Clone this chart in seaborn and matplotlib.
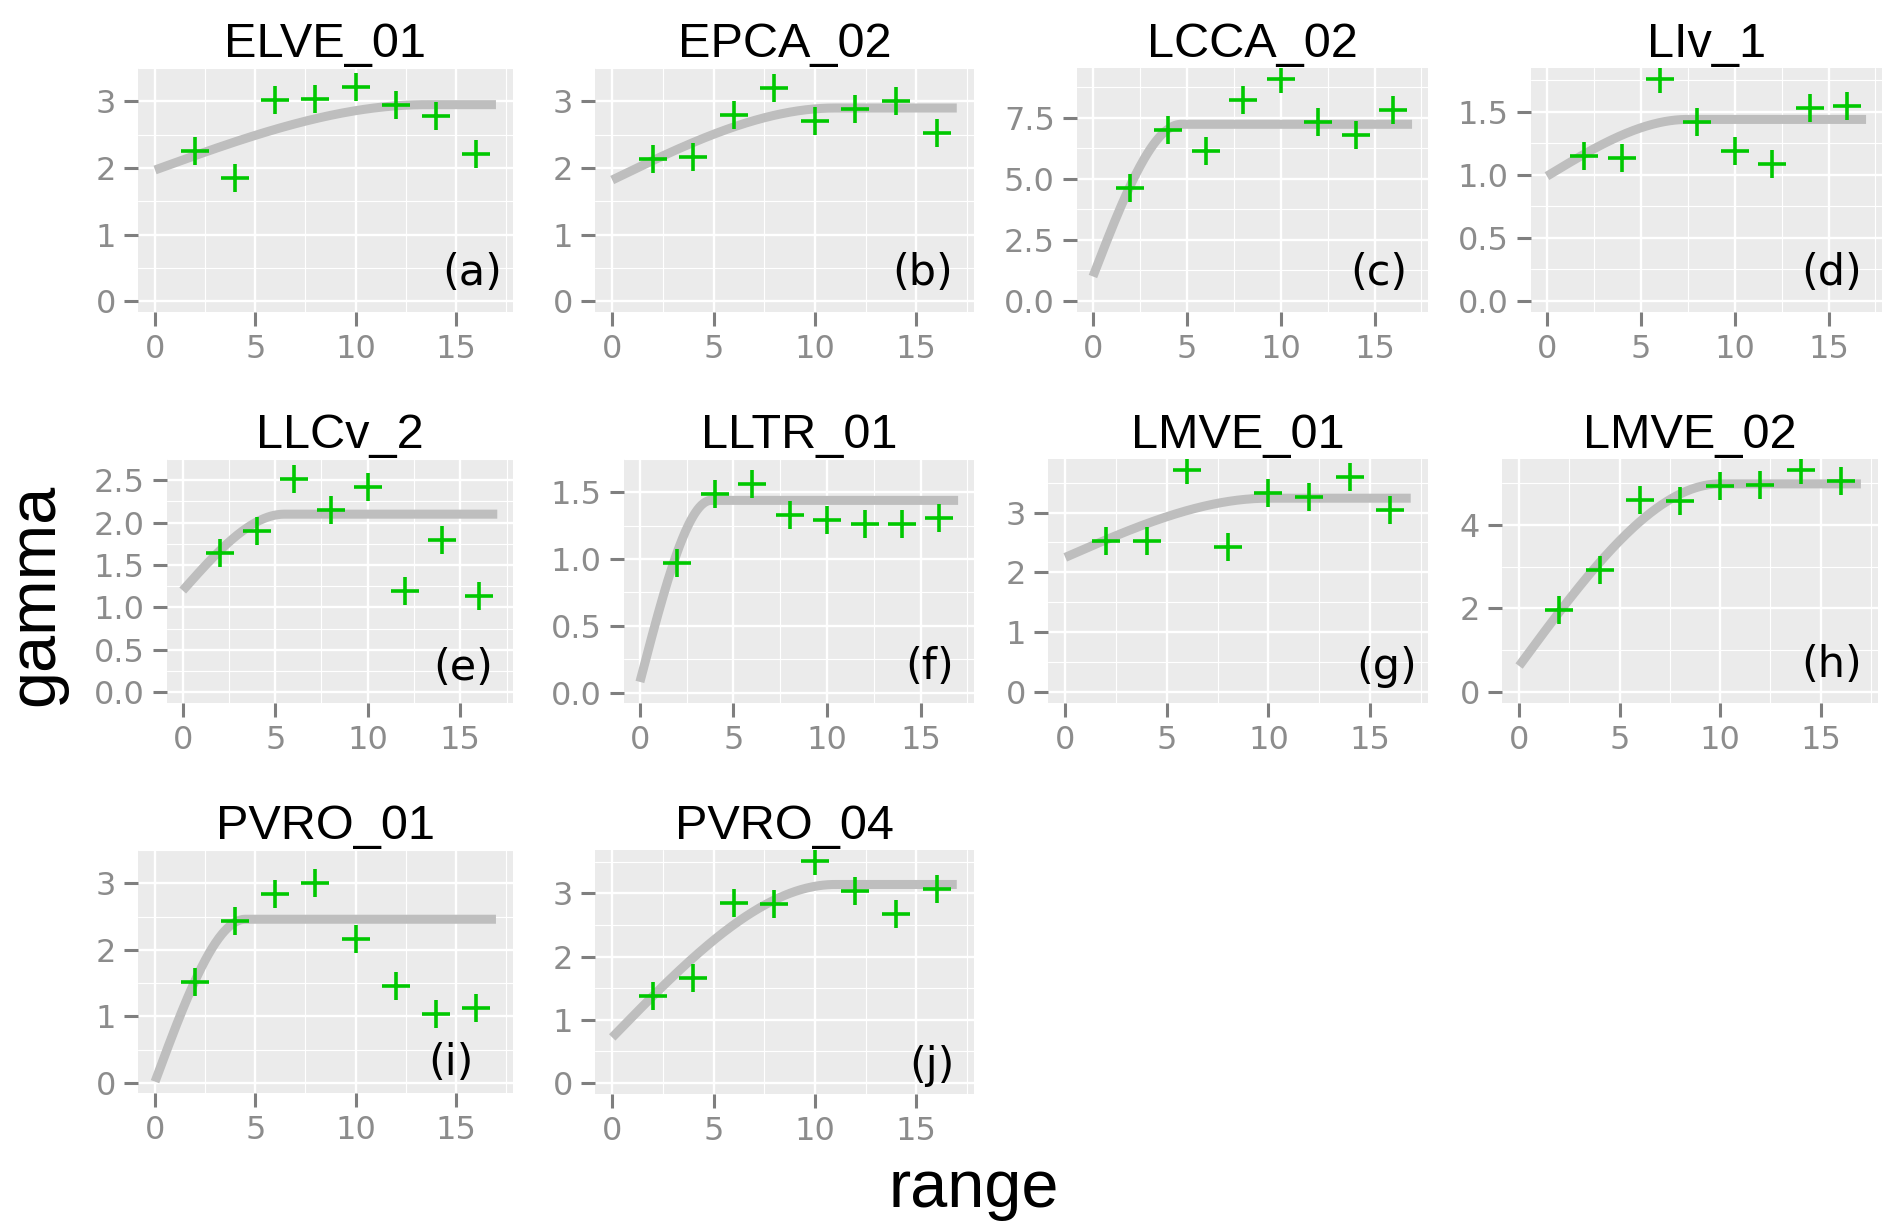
import numpy as np
import pandas as pd
import matplotlib
matplotlib.use("Agg")
import matplotlib.pyplot as plt
import seaborn as sns

# --- data ------------------------------------------------------------------
sites = ["ELVE_01", "EPCA_02", "LCCA_02", "LIv_1", "LLCv_2",
         "LLTR_01", "LMVE_01", "LMVE_02", "PVRO_01", "PVRO_04"]
tags = ["(a)", "(b)", "(c)", "(d)", "(e)", "(f)", "(g)", "(h)", "(i)", "(j)"]

lags = [2, 4, 6, 8, 10, 12, 14, 16]

gamma_elve01 = [2.25, 1.85, 3.02, 3.04, 3.22, 2.94, 2.78, 2.21]
gamma_epca02 = [2.14, 2.16, 2.79, 3.20, 2.70, 2.89, 3.01, 2.52]
gamma_lcca02 = [4.63, 7.01, 6.12, 8.24, 9.08, 7.32, 6.78, 7.80]
gamma_liv1 = [1.15, 1.13, 1.76, 1.42, 1.19, 1.09, 1.53, 1.55]
gamma_llcv2 = [1.64, 1.90, 2.51, 2.15, 2.42, 1.19, 1.79, 1.14]
gamma_lltr01 = [0.97, 1.49, 1.56, 1.33, 1.29, 1.26, 1.26, 1.31]
gamma_lmve01 = [2.53, 2.52, 3.71, 2.42, 3.32, 3.26, 3.59, 3.04]
gamma_lmve02 = [1.96, 2.93, 4.60, 4.56, 4.94, 4.96, 5.31, 5.04]
gamma_pvro01 = [1.51, 2.44, 2.84, 3.00, 2.16, 1.46, 1.04, 1.12]
gamma_pvro04 = [1.38, 1.66, 2.85, 2.83, 3.51, 3.04, 2.68, 3.07]

gammas = [gamma_elve01, gamma_epca02, gamma_lcca02, gamma_liv1, gamma_llcv2,
          gamma_lltr01, gamma_lmve01, gamma_lmve02, gamma_pvro01, gamma_pvro04]

# fitted spherical model parameters (estimated from the grey curves)
nugget = [1.97, 1.82, 1.00, 0.99, 1.20, 0.08, 2.25, 0.62, 0.02, 0.72]
sill = [2.95, 2.90, 7.23, 1.44, 2.10, 1.44, 3.24, 4.98, 2.46, 3.14]
model_range = [13.5, 11.0, 4.7, 7.5, 5.5, 3.8, 10.0, 10.0, 4.5, 11.0]
max_dist = 17

yticks = [[0, 1, 2, 3], [0, 1, 2, 3], [0, 2.5, 5, 7.5], [0, 0.5, 1, 1.5],
          [0, 0.5, 1, 1.5, 2, 2.5], [0, 0.5, 1, 1.5], [0, 1, 2, 3],
          [0, 2, 4], [0, 1, 2, 3], [0, 1, 2, 3]]
xticks = [0, 5, 10, 15]

# --- layout (pixel boxes of each panel: left, top, right, bottom) -----------
W, H = 1885, 1228
boxes = [(138, 68, 513, 312), (595, 68, 974, 312), (1077, 68, 1428, 312),
         (1531, 68, 1882, 312), (167, 459, 513, 703), (624, 459, 974, 703),
         (1048, 459, 1428, 703), (1502, 459, 1878, 703),
         (138, 850, 513, 1093), (595, 850, 974, 1094)]
tag_pos = [(0.891, 0.16), (0.865, 0.16), (0.86, 0.16), (0.857, 0.16),
           (0.855, 0.143), (0.874, 0.148), (0.892, 0.148), (0.877, 0.156),
           (0.835, 0.123), (0.889, 0.115)]


def spherical(h, c0, c, a):
    h = np.asarray(h, dtype=float)
    g = c0 + (c - c0) * (1.5 * h / a - 0.5 * (h / a) ** 3)
    return np.where(h < a, g, c)


sns.set_theme(style="darkgrid", rc={"axes.facecolor": "#EBEBEB",
                                    "grid.color": "white"})
plt.rcParams["font.family"] = ["Liberation Sans", "DejaVu Sans"]

fig = plt.figure(figsize=(W / 100, H / 100), dpi=100)
fig.patch.set_facecolor("white")

for i, site in enumerate(sites):
    l, t, r, b = boxes[i]
    ax = fig.add_axes([l / W, 1 - b / H, (r - l) / W, (b - t) / H])

    pts = pd.DataFrame({"range": lags, "gamma": gammas[i]})
    dist = np.linspace(0, max_dist, 300)
    model = pd.DataFrame({"range": dist,
                          "gamma": spherical(dist, nugget[i], sill[i], model_range[i])})

    sns.lineplot(data=model, x="range", y="gamma", color="#BEBEBE",
                 linewidth=6.5, ax=ax, solid_capstyle="butt")
    sns.scatterplot(data=pts, x="range", y="gamma", marker="+", s=400,
                    color="#00C800", linewidth=2.6, ax=ax, zorder=3)

    ymax = max(max(gammas[i]), sill[i])
    ax.set_ylim(-0.05 * ymax, 1.05 * ymax)
    ax.set_xlim(-0.05 * max_dist, 1.05 * max_dist)

    yt = yticks[i]
    ax.set_yticks(yt)
    step = yt[1] - yt[0]
    if step != int(step):
        ax.set_yticklabels([f"{v:.1f}" for v in yt])
    else:
        ax.set_yticklabels([f"{v:g}" for v in yt])
    ax.set_yticks([v + step / 2 for v in yt], minor=True)
    ax.set_xticks(xticks)
    ax.set_xticks([2.5, 7.5, 12.5, 17.5], minor=True)

    ax.grid(which="major", color="white", linewidth=1.7)
    ax.grid(which="minor", color="white", linewidth=0.8)
    ax.tick_params(which="major", length=10, width=2.2, color="#7F7F7F",
                   labelcolor="#8C8C8C", labelsize=23, pad=6,
                   bottom=True, left=True)
    ax.tick_params(which="minor", length=0)
    for lab in ax.get_xticklabels() + ax.get_yticklabels():
        lab.set_family("DejaVu Sans")
    for s in ax.spines.values():
        s.set_visible(False)

    ax.set_xlabel("")
    ax.set_ylabel("")
    ax.set_title(site, fontsize=35, pad=8, color="black")
    tx, ty = tag_pos[i]
    ax.text(tx, ty, tags[i], transform=ax.transAxes, ha="center", va="center",
            fontsize=31, family="DejaVu Sans", color="black")

fig.text(36 / W, 1 - 595 / H, "gamma", rotation=90, ha="center", va="center",
         fontsize=48, color="black")
fig.text(974 / W, 1 - 1190 / H, "range", ha="center", va="center",
         fontsize=48, color="black")

fig.savefig("out.png", dpi=100, facecolor="white")
